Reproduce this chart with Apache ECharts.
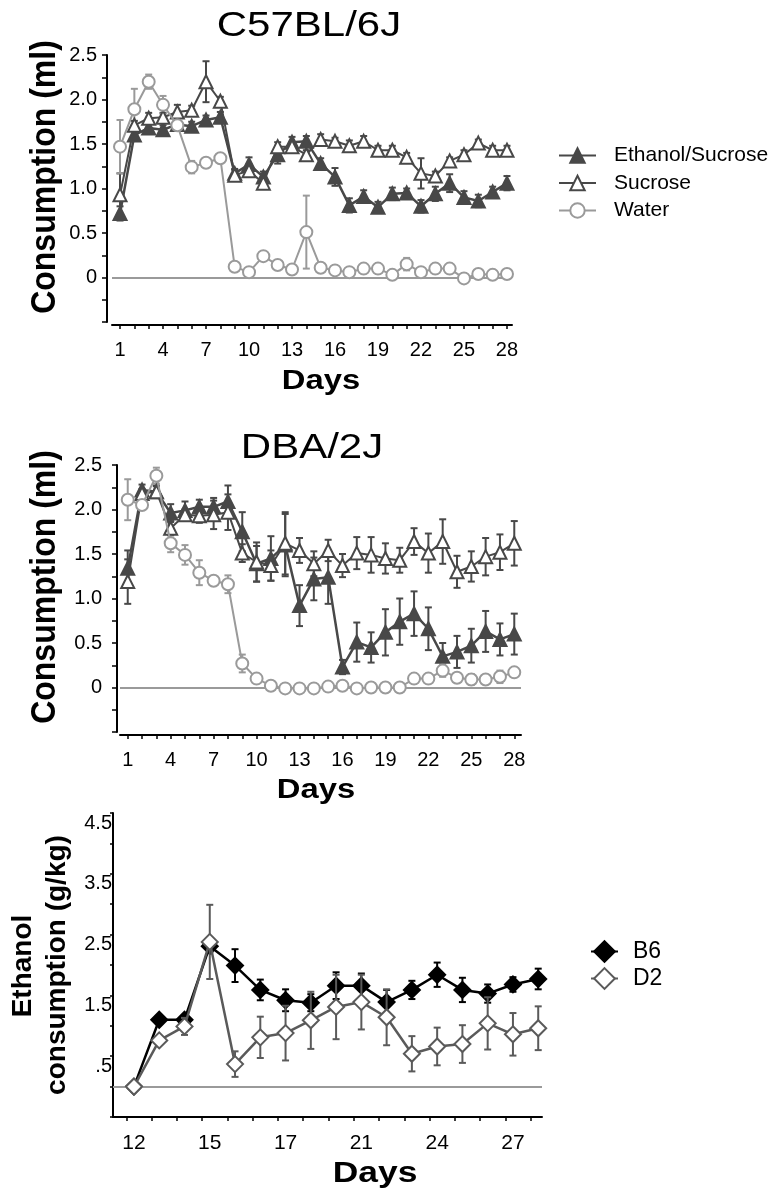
<!DOCTYPE html>
<html>
<head>
<meta charset="utf-8">
<script src="https://cdn.jsdelivr.net/npm/echarts@6/dist/echarts.min.js"></script>
<style>html,body{margin:0;padding:0;background:#fff;}#chart{width:778px;height:1199px;}</style>
</head>
<body>
<div id="chart"></div>
<script>
// ---------- DATA ----------
const days = [1,2,3,4,5,6,7,8,9,10,11,12,13,14,15,16,17,18,19,20,21,22,23,24,25,26,27,28];
const dayTickLabels = ['1','4','7','10','13','16','19','22','25','28'];
const dayTickLabelValues = [1,4,7,10,13,16,19,22,25,28];
const mlTickValues = [0,0.5,1,1.5,2,2.5];
const mlTickLabels = ['0','0.5','1.0','1.5','2.0','2.5'];

// C57BL/6J
const c57Eth = [0.72,1.60,1.68,1.66,1.72,1.70,1.77,1.80,1.17,1.27,1.13,1.38,1.52,1.53,1.28,1.13,0.81,0.91,0.79,0.94,0.95,0.80,0.94,1.06,0.90,0.86,0.96,1.06];
const c57EthErr = [0.08,0.06,0.05,0.05,0.05,0.05,0.05,0.06,0.05,0.08,0.06,0.10,0.06,0.06,0.06,0.10,0.08,0.07,0.06,0.07,0.05,0.07,0.08,0.10,0.07,0.07,0.06,0.08];
const c57Suc = [0.93,1.71,1.79,1.80,1.86,1.88,2.20,1.98,1.15,1.20,1.06,1.47,1.47,1.38,1.55,1.53,1.48,1.53,1.43,1.43,1.35,1.17,1.14,1.31,1.38,1.51,1.43,1.43];
const c57SucErr = [0.24,0.05,0.06,0.05,0.08,0.05,0.23,0.05,0.06,0.07,0.06,0.05,0.05,0.05,0.06,0.04,0.06,0.06,0.05,0.05,0.05,0.17,0.05,0.04,0.05,0.04,0.05,0.05];
const c57Wat = [1.47,1.89,2.20,1.94,1.71,1.24,1.29,1.34,0.12,0.06,0.24,0.14,0.09,0.51,0.11,0.08,0.06,0.10,0.10,0.03,0.15,0.06,0.10,0.10,-0.01,0.04,0.03,0.04];
const c57WatErr = [0.30,0.23,0.08,0.10,0.05,0.07,0.05,0.04,0.03,0.02,0.03,0.03,0.03,0.41,0.03,0.02,0.02,0.02,0.02,0.02,0.07,0.02,0.02,0.02,0.02,0.02,0.02,0.02];

// DBA/2J
const dbaEth = [1.34,2.22,2.20,1.96,1.99,2.03,2.03,2.09,1.75,1.39,1.45,1.60,0.92,1.22,1.24,0.23,0.51,0.45,0.62,0.74,0.83,0.66,0.35,0.40,0.47,0.63,0.54,0.60];
const dbaEthErr = [0.20,0.06,0.07,0.10,0.10,0.08,0.10,0.18,0.22,0.20,0.25,0.35,0.23,0.24,0.30,0.08,0.22,0.17,0.26,0.26,0.25,0.24,0.15,0.18,0.19,0.23,0.18,0.23];
const dbaSuc = [1.19,2.18,2.20,1.79,1.94,1.93,1.94,1.97,1.51,1.41,1.37,1.62,1.54,1.39,1.54,1.37,1.51,1.49,1.45,1.43,1.64,1.51,1.64,1.30,1.36,1.47,1.52,1.62];
const dbaSucErr = [0.25,0.05,0.06,0.08,0.06,0.08,0.16,0.20,0.10,0.22,0.17,0.35,0.14,0.14,0.12,0.13,0.18,0.20,0.17,0.14,0.15,0.22,0.25,0.18,0.17,0.21,0.20,0.25];
const dbaWat = [2.11,2.05,2.38,1.62,1.49,1.29,1.20,1.16,0.27,0.10,0.02,-0.01,-0.01,-0.01,0.01,0.02,-0.01,0.00,0.00,0.00,0.10,0.10,0.19,0.11,0.09,0.09,0.12,0.17];
const dbaWatErr = [0.23,0.05,0.09,0.10,0.11,0.14,0.05,0.10,0.10,0.04,0.02,0.02,0.02,0.02,0.02,0.02,0.02,0.02,0.02,0.02,0.03,0.03,0.07,0.05,0.06,0.05,0.07,0.05];

// Ethanol g/kg
const etDays = [12,13,14,15,16,17,18,19,20,21,22,23,24,25,26,27,28];
const etTickLabelValues = [12,15,18,21,24,27];
const etTickLabels = ['12','15','17','21','24','27'];
const gkgTickValues = [0.5,1.5,2.5,3.5,4.5];
const gkgTickLabels = ['.5','1.5','2.5','3.5','4.5'];
const b6 = [0.00,1.10,1.10,2.31,1.99,1.59,1.42,1.38,1.66,1.66,1.39,1.59,1.84,1.59,1.53,1.68,1.77];
const b6Err = [0,0.05,0.05,0.10,0.27,0.17,0.18,0.14,0.22,0.20,0.20,0.15,0.20,0.20,0.15,0.12,0.17];
const d2 = [0.00,0.76,0.99,2.38,0.37,0.81,0.88,1.09,1.31,1.39,1.14,0.54,0.66,0.70,1.04,0.86,0.96];
const d2Err = [0,0.06,0.14,0.61,0.21,0.34,0.45,0.47,0.53,0.45,0.46,0.29,0.31,0.31,0.43,0.35,0.36];

// ---------- STYLE ----------
const FONT = "'Liberation Sans', Arial, Helvetica, sans-serif";
const DARK = '#484848';
const LIGHT = '#9a9a9a';
const D2C = '#5a5a5a';

function lookup(vals, labels, v) {
  for (let i = 0; i < vals.length; i++) if (Math.abs(vals[i] - v) < 1e-6) return labels[i];
  return '';
}
function pairs(xs, ys) { return xs.map((x, i) => [x, ys[i]]); }
function errSeries(xi, xs, ys, es, color, z) {
  return {
    type: 'custom', name: 'err' + z + '_' + xi, xAxisIndex: xi, yAxisIndex: xi, z: z,
    silent: true, animation: false, encode: { x: 0, y: 1 },
    data: xs.map((x, i) => [x, ys[i], es[i]]),
    renderItem: function (params, api) {
      const x = api.value(0), y = api.value(1), e = api.value(2);
      if (!e) return null;
      const t = api.coord([x, y + e]), b = api.coord([x, y - e]);
      const w = 3.5;
      const st = { stroke: color, lineWidth: 2 };
      return { type: 'group', children: [
        { type: 'line', shape: { x1: t[0], y1: t[1], x2: b[0], y2: b[1] }, style: st },
        { type: 'line', shape: { x1: t[0] - w, y1: t[1], x2: t[0] + w, y2: t[1] }, style: st },
        { type: 'line', shape: { x1: b[0] - w, y1: b[1], x2: b[0] + w, y2: b[1] }, style: st }
      ]};
    }
  };
}
function lineSeries(name, xi, xs, ys, symbol, size, lineColor, fill, border, lw, z, extra) {
  return Object.assign({
    type: 'line', name: name, xAxisIndex: xi, yAxisIndex: xi, z: z,
    data: pairs(xs, ys), symbol: symbol, symbolSize: size, showAllSymbol: true,
    lineStyle: { color: lineColor, width: lw },
    itemStyle: { color: fill, borderColor: border, borderWidth: 2 },
    emphasis: { disabled: true }, animation: false
  }, extra || {});
}
const zeroLine = {
  silent: true, symbol: 'none', label: { show: false }, animation: false,
  lineStyle: { color: '#9a9a9a', width: 2, type: 'solid' }, data: [{ yAxis: 0 }]
};

const axisLineStyle = { color: '#000', width: 2 };
const tickStyle = { color: '#000', width: 1.5 };

function mlXAxis(gi, min, max) {
  return {
    gridIndex: gi, type: 'value', min: min, max: max, offset: 3,
    axisLine: { show: true, onZero: false, lineStyle: axisLineStyle },
    axisTick: { show: true, length: 4, customValues: days, lineStyle: tickStyle },
    axisLabel: { customValues: dayTickLabelValues, formatter: v => lookup(dayTickLabelValues, dayTickLabels, v),
      fontSize: 20, color: '#000', fontFamily: FONT, margin: 15 },
    splitLine: { show: false }
  };
}
function mlYAxis(gi, off, margin) {
  return {
    gridIndex: gi, type: 'value', min: -0.5, max: 2.5, interval: 0.25, offset: off,
    axisLine: { show: true, onZero: false, lineStyle: axisLineStyle },
    axisTick: { show: true, length: 5, lineStyle: tickStyle },
    axisLabel: { formatter: v => lookup(mlTickValues, mlTickLabels, v), fontSize: 20, color: '#000', fontFamily: FONT, margin: margin },
    splitLine: { show: false }
  };
}

const option = {
  backgroundColor: '#fff',
  animation: false,
  grid: [
    { left: 112, top: 55, width: 400, height: 267 },
    { left: 120, top: 465, width: 401, height: 267 },
    { left: 113, top: 813, width: 429, height: 304 }
  ],
  xAxis: [
    mlXAxis(0, 0.44, 28.35),
    mlXAxis(1, 0.46, 28.47),
    {
      gridIndex: 2, type: 'value', min: 11.17, max: 28.15,
      axisLine: { show: true, onZero: false, lineStyle: axisLineStyle },
      axisTick: { show: true, length: 4, customValues: etDays.map(d => d - 0.3), lineStyle: tickStyle },
      axisLabel: { customValues: etTickLabelValues, formatter: v => lookup(etTickLabelValues, etTickLabels, v),
        fontSize: 21, color: '#000', fontFamily: FONT, margin: 16 },
      splitLine: { show: false }
    }
  ],
  yAxis: [
    mlYAxis(0, 5, 10),
    mlYAxis(1, 3, 15),
    {
      gridIndex: 2, type: 'value', min: -0.5, max: 4.5, interval: 0.5,
      axisLine: { show: true, onZero: false, lineStyle: axisLineStyle },
      axisTick: { show: true, length: 3, lineStyle: tickStyle },
      axisLabel: { formatter: v => lookup(gkgTickValues, gkgTickLabels, v), fontSize: 20, color: '#000', fontFamily: FONT,
        margin: 1, verticalAlign: 'top' },
      splitLine: { show: false }
    }
  ],
  legend: [
    {
      data: ['Ethanol/Sucrose', 'Sucrose', 'Water'], orient: 'vertical', left: 558, top: 145, padding: 0,
      itemWidth: 37, itemHeight: 18, itemGap: 6.5, selectedMode: false,
      textStyle: { fontSize: 21, lineHeight: 21, color: '#000', fontFamily: FONT, padding: [0, 0, 0, 13] }
    },
    {
      data: ['B6', 'D2'], orient: 'vertical', left: 590, top: 940, padding: 0,
      itemWidth: 27, itemHeight: 26, itemGap: 4, selectedMode: false,
      textStyle: { fontSize: 23, lineHeight: 23, color: '#000', fontFamily: FONT, padding: [0, 0, 0, 10] }
    }
  ],
  series: [
    // C57BL/6J
    errSeries(0, days, c57Eth, c57EthErr, DARK, 2),
    errSeries(0, days, c57Suc, c57SucErr, DARK, 2),
    errSeries(0, days, c57Wat, c57WatErr, LIGHT, 2),
    lineSeries('Ethanol/Sucrose', 0, days, c57Eth, 'triangle', 13, DARK, DARK, DARK, 2.5, 3, { markLine: zeroLine }),
    lineSeries('Sucrose', 0, days, c57Suc, 'triangle', 13, DARK, '#fff', DARK, 2, 4),
    lineSeries('Water', 0, days, c57Wat, 'circle', 12, LIGHT, '#fff', LIGHT, 2, 5),
    // DBA/2J
    errSeries(1, days, dbaEth, dbaEthErr, DARK, 2),
    errSeries(1, days, dbaSuc, dbaSucErr, DARK, 2),
    errSeries(1, days, dbaWat, dbaWatErr, LIGHT, 2),
    lineSeries('Ethanol/Sucrose', 1, days, dbaEth, 'triangle', 13, DARK, DARK, DARK, 2.5, 3, { markLine: zeroLine }),
    lineSeries('Sucrose', 1, days, dbaSuc, 'triangle', 13, DARK, '#fff', DARK, 2, 4),
    lineSeries('Water', 1, days, dbaWat, 'circle', 12, LIGHT, '#fff', LIGHT, 2, 5),
    // Ethanol g/kg
    errSeries(2, etDays, b6, b6Err, '#000', 2),
    lineSeries('B6', 2, etDays, b6, 'diamond', 16, '#000', '#000', '#000', 2.5, 3, { markLine: zeroLine }),
    errSeries(2, etDays, d2, d2Err, D2C, 4),
    lineSeries('D2', 2, etDays, d2, 'diamond', 16, D2C, '#fff', D2C, 2.5, 5)
  ],
  graphic: [
    { type: 'text', x: 309, y: 26, scaleX: 1.2, style: { text: 'C57BL/6J', font: 'normal 35px ' + FONT, fill: '#000', align: 'center', verticalAlign: 'middle' } },
    { type: 'text', x: 312, y: 448, scaleX: 1.2, style: { text: 'DBA/2J', font: 'normal 35px ' + FONT, fill: '#000', align: 'center', verticalAlign: 'middle' } },
    { type: 'text', x: 45, y: 177, rotation: Math.PI / 2, scaleY: 1.1, style: { text: 'Consumption (ml)', font: 'bold 32px ' + FONT, fill: '#000', align: 'center', verticalAlign: 'middle' } },
    { type: 'text', x: 45, y: 587, rotation: Math.PI / 2, scaleY: 1.1, style: { text: 'Consumption (ml)', font: 'bold 32px ' + FONT, fill: '#000', align: 'center', verticalAlign: 'middle' } },
    { type: 'text', x: 321, y: 381, scaleX: 1.17, style: { text: 'Days', font: 'bold 28px ' + FONT, fill: '#000', align: 'center', verticalAlign: 'middle' } },
    { type: 'text', x: 316, y: 790, scaleX: 1.17, style: { text: 'Days', font: 'bold 28px ' + FONT, fill: '#000', align: 'center', verticalAlign: 'middle' } },
    { type: 'text', x: 375, y: 1174, scaleX: 1.18, style: { text: 'Days', font: 'bold 30px ' + FONT, fill: '#000', align: 'center', verticalAlign: 'middle' } },
    { type: 'text', x: 23, y: 966, rotation: Math.PI / 2, style: { text: 'Ethanol', font: 'bold 28px ' + FONT, fill: '#000', align: 'center', verticalAlign: 'middle' } },
    { type: 'text', x: 57, y: 965, rotation: Math.PI / 2, style: { text: 'consumption (g/kg)', font: 'bold 28px ' + FONT, fill: '#000', align: 'center', verticalAlign: 'middle' } }
  ]
};

const chart = echarts.init(document.getElementById('chart'), null, { renderer: 'canvas' });
chart.setOption(option);
</script>
</body>
</html>
